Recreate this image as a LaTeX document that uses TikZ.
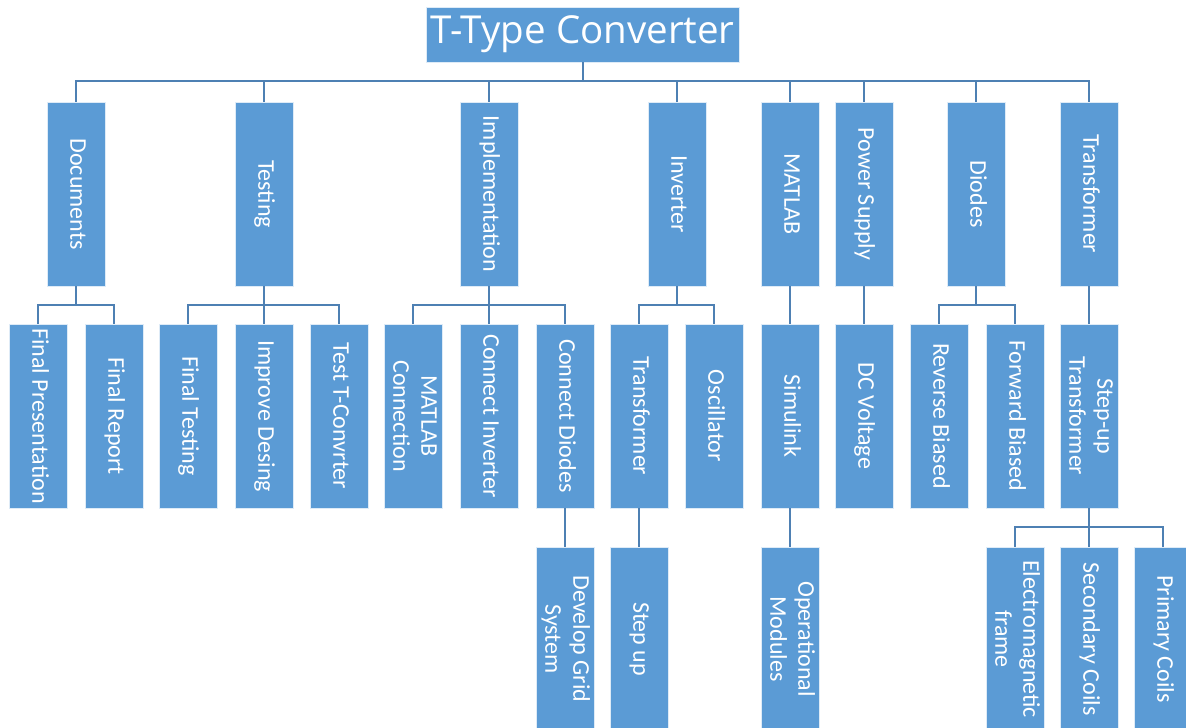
\documentclass[tikz,border=0pt]{standalone}
\usepackage{fontspec}
\setmainfont{Carlito}
\newfontfamily\titlefont{Open Sans}
\definecolor{boxblue}{HTML}{5B9BD5}
\definecolor{lineblue}{HTML}{4E80B3}
\newcommand{\vt}[1]{\rotatebox{-90}{\begin{tabular}{@{}c@{}}#1\end{tabular}}}
\begin{document}
\begin{tikzpicture}[x=1pt,y=-1pt,
  box/.style={rectangle, fill=boxblue, draw=white!80!boxblue, line width=0.6pt,
    minimum width=58pt, minimum height=184pt, inner sep=0pt, text=white,
    font=\fontsize{24}{28}\selectfont},
  titlebox/.style={rectangle, fill=boxblue, draw=white!80!boxblue, line width=0.6pt,
    minimum width=313pt, minimum height=55pt, inner sep=0pt, text=white,
    font=\titlefont\fontsize{38.5}{40}\selectfont},
  conn/.style={draw=lineblue, line width=2pt}]
\useasboundingbox (0,0) rectangle (1186,728);
\clip (0,0) rectangle (1186,728);
\fill[white] (0,0) rectangle (1186,728);

% root
\node[titlebox] (root) at (582.5,34.5) {\raisebox{-2pt}{T-Type Converter}};

% level 1
\node[box] (doc) at (76,194) {\vt{Documents}};
\node[box] (tst) at (264,194) {\vt{Testing}};
\node[box] (imp) at (489,194) {\vt{Implementation}};
\node[box] (inv) at (677,194) {\vt{Inverter}};
\node[box] (mat) at (790,194) {\vt{MATLAB}};
\node[box] (pow) at (864,194) {\vt{Power Supply}};
\node[box] (dio) at (976,194) {\vt{Diodes}};
\node[box] (tra) at (1089,194) {\vt{Transformer}};

% level 2
\node[box] (fp)  at (38,416)   {\vt{Final Presentation}};
\node[box] (fr)  at (114,416)  {\vt{Final Report}};
\node[box] (ft)  at (188,416)  {\vt{Final Testing}};
\node[box] (id)  at (264,416)  {\vt{Improve Desing}};
\node[box] (tt)  at (339,416)  {\vt{Test T-Convrter}};
\node[box] (mc)  at (413,416)  {\vt{MATLAB\\Connection}};
\node[box] (ci)  at (489,416)  {\vt{Connect Inverter}};
\node[box] (cd)  at (565,416)  {\vt{Connect Diodes}};
\node[box] (itr) at (639,416)  {\vt{Transformer}};
\node[box] (osc) at (714,416)  {\vt{Oscillator}};
\node[box] (sim) at (790,416)  {\vt{Simulink}};
\node[box] (dcv) at (864,416)  {\vt{DC Voltage}};
\node[box] (rb)  at (939,416)  {\vt{Reverse Biased}};
\node[box] (fb)  at (1015,416) {\vt{Forward Biased}};
\node[box] (sut) at (1089,416) {\vt{Step-up\\Transformer}};

% level 3
\node[box] (dgs) at (565,639)  {\vt{Develop Grid\\System}};
\node[box] (su)  at (639,639)  {\vt{Step up}};
\node[box] (om)  at (790,639)  {\vt{Operational\\Modules}};
\node[box] (emf) at (1015,639) {\vt{Electromagnetic\\frame}};
\node[box] (sc)  at (1089,639) {\vt{Secondary Coils}};
\node[box] (pc)  at (1163,639) {\vt{Primary Coils}};

% bus levels
\coordinate (b0) at (0,81);
\coordinate (b1) at (0,305);
\coordinate (b2) at (0,527);

% root -> level 1
\draw[conn] (root.south) -- (root.south |- b0);
\draw[conn] (doc.north) -- (doc.north |- b0) -- (tra.north |- b0) -- (tra.north);
\foreach \n in {tst,imp,inv,mat,pow,dio}
  \draw[conn] (\n.north) -- (\n.north |- b0);

% Documents
\draw[conn] (doc.south) -- (doc.south |- b1);
\draw[conn] (fp.north) -- (fp.north |- b1) -- (fr.north |- b1) -- (fr.north);
% Testing
\draw[conn] (tst.south) -- (tst.south |- b1);
\draw[conn] (ft.north) -- (ft.north |- b1) -- (tt.north |- b1) -- (tt.north);
\draw[conn] (id.north) -- (id.north |- b1);
% Implementation
\draw[conn] (imp.south) -- (imp.south |- b1);
\draw[conn] (mc.north) -- (mc.north |- b1) -- (cd.north |- b1) -- (cd.north);
\draw[conn] (ci.north) -- (ci.north |- b1);
% Inverter
\draw[conn] (inv.south) -- (inv.south |- b1);
\draw[conn] (itr.north) -- (itr.north |- b1) -- (osc.north |- b1) -- (osc.north);
% single children
\draw[conn] (mat.south) -- (sim.north);
\draw[conn] (pow.south) -- (dcv.north);
\draw[conn] (tra.south) -- (sut.north);
% Diodes
\draw[conn] (dio.south) -- (dio.south |- b1);
\draw[conn] (rb.north) -- (rb.north |- b1) -- (fb.north |- b1) -- (fb.north);

% level 2 -> level 3
\draw[conn] (cd.south) -- (dgs.north);
\draw[conn] (itr.south) -- (su.north);
\draw[conn] (sim.south) -- (om.north);
\draw[conn] (sut.south) -- (sut.south |- b2);
\draw[conn] (emf.north) -- (emf.north |- b2) -- (pc.north |- b2) -- (pc.north);
\draw[conn] (sc.north) -- (sc.north |- b2);
\end{tikzpicture}
\end{document}
